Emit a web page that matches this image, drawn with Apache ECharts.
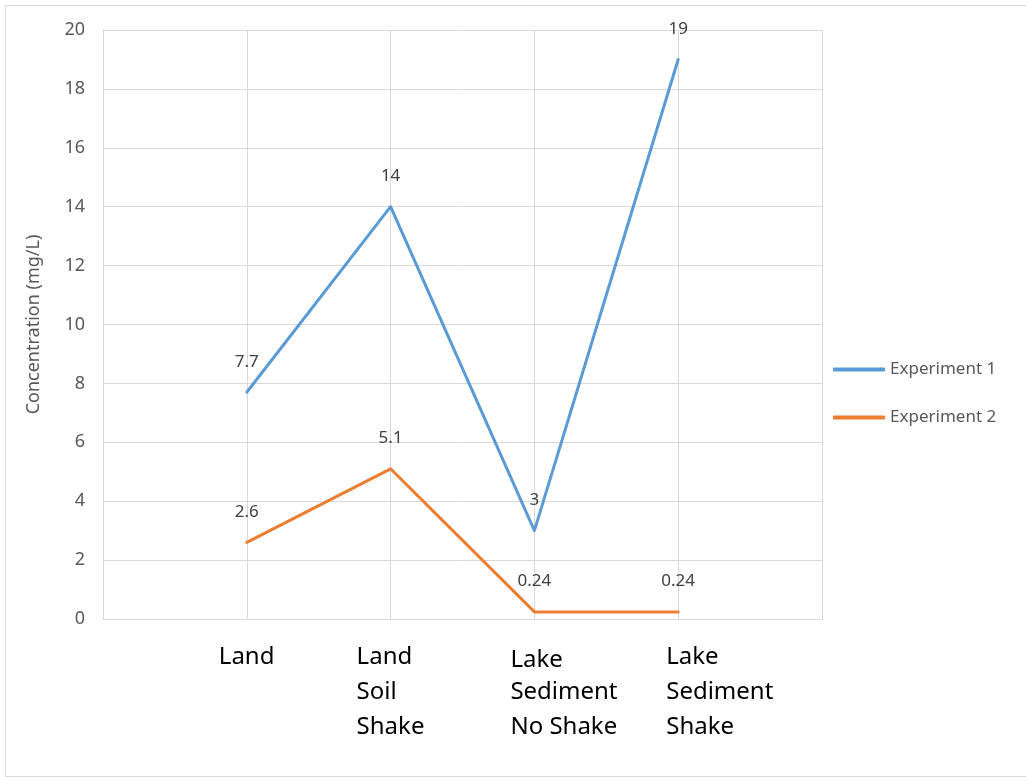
<!DOCTYPE html>
<html>
<head>
<meta charset="utf-8">
<script src="https://cdn.jsdelivr.net/npm/echarts@6/dist/echarts.min.js"></script>
<style>
html,body{margin:0;padding:0;background:#fff;}
#frame{position:absolute;left:5px;top:5px;width:1030px;height:772px;border:1px solid #d9d9d9;box-sizing:border-box;}
#main{position:absolute;left:0;top:0;width:1026px;height:780px;}
</style>
</head>
<body>
<div id="frame"></div>
<div id="main"></div>
<script>
const categories = ['Land', 'Land\nSoil\nShake', 'Lake\nSediment\nNo Shake', 'Lake\nSediment\nShake'];
const experiment1 = [7.7, 14, 3, 19];
const experiment2 = [2.6, 5.1, 0.24, 0.24];
const seriesNames = ['Experiment 1', 'Experiment 2'];
const yTicks = [0, 2, 4, 6, 8, 10, 12, 14, 16, 18, 20];

// padded with an empty slot on each side (Excel layout)
const xCats = [''].concat(categories).concat(['']);
const pad = arr => [null].concat(arr).concat([null]);

const labelPad = [64, 52, 72, 96];
const labelTop = [0, 0, 5, 0];
const rich = {};
labelPad.forEach((p, i) => {
  rich['c' + i] = {width: 120, align: 'left', padding: [0, 0, 0, p], fontSize: 24, lineHeight: 35, color: '#000', fontFamily: 'Noto Sans'};
  rich['f' + i] = {width: 120, align: 'left', padding: [labelTop[i], 0, 0, p], fontSize: 24, lineHeight: 35, color: '#000', fontFamily: 'Noto Sans'};
});

const chart = echarts.init(document.getElementById('main'));
chart.setOption({
  animation: false,
  textStyle: {fontFamily: 'Noto Sans'},
  grid: {left: 103, right: 204, top: 30, bottom: 161, containLabel: false},
  legend: {
    orient: 'vertical', left: 833, top: 361, padding: 0, itemWidth: 52, itemHeight: 4, itemGap: 31,
    icon: 'roundRect',
    textStyle: {fontSize: 17, color: '#595959'},
    data: seriesNames
  },
  xAxis: {
    type: 'category', data: xCats, boundaryGap: false,
    axisLine: {lineStyle: {color: '#d9d9d9', width: 1}},
    axisTick: {show: false},
    splitLine: {show: true, lineStyle: {color: '#d9d9d9', width: 1}},
    axisLabel: {
      interval: 0, margin: 21,
      formatter: (v, idx) => {
        if (!v) return '';
        const i = idx - 1;
        return v.split('\n').map((l, k) => '{' + (k === 0 ? 'f' : 'c') + i + '|' + l + '}').join('\n');
      },
      rich: rich
    }
  },
  yAxis: {
    type: 'value', min: 0, max: 20, interval: 2,
    name: 'Concentration (mg/L)', nameLocation: 'middle', nameGap: 60,
    nameTextStyle: {fontSize: 18, color: '#595959'},
    axisLine: {show: false}, axisTick: {show: false},
    axisLabel: {fontSize: 18, color: '#595959', margin: 18, formatter: v => yTicks.includes(v) ? String(v) : ''},
    splitLine: {lineStyle: {color: '#d9d9d9', width: 1}}
  },
  series: [
    {name: seriesNames[0], type: 'line', data: pad(experiment1), symbol: 'circle', symbolSize: 0.1, showSymbol: true, connectNulls: false,
     lineStyle: {color: '#5B9BD5', width: 3, cap: 'round', join: 'round'}, itemStyle: {color: '#5B9BD5'},
     label: {show: true, position: 'top', distance: 22, fontSize: 17, color: '#404040'}},
    {name: seriesNames[1], type: 'line', data: pad(experiment2), symbol: 'circle', symbolSize: 0.1, showSymbol: true, connectNulls: false,
     lineStyle: {color: '#ED7D31', width: 3, cap: 'round', join: 'round'}, itemStyle: {color: '#ED7D31'},
     label: {show: true, position: 'top', distance: 22, fontSize: 17, color: '#404040'}}
  ]
});
</script>
</body>
</html>
